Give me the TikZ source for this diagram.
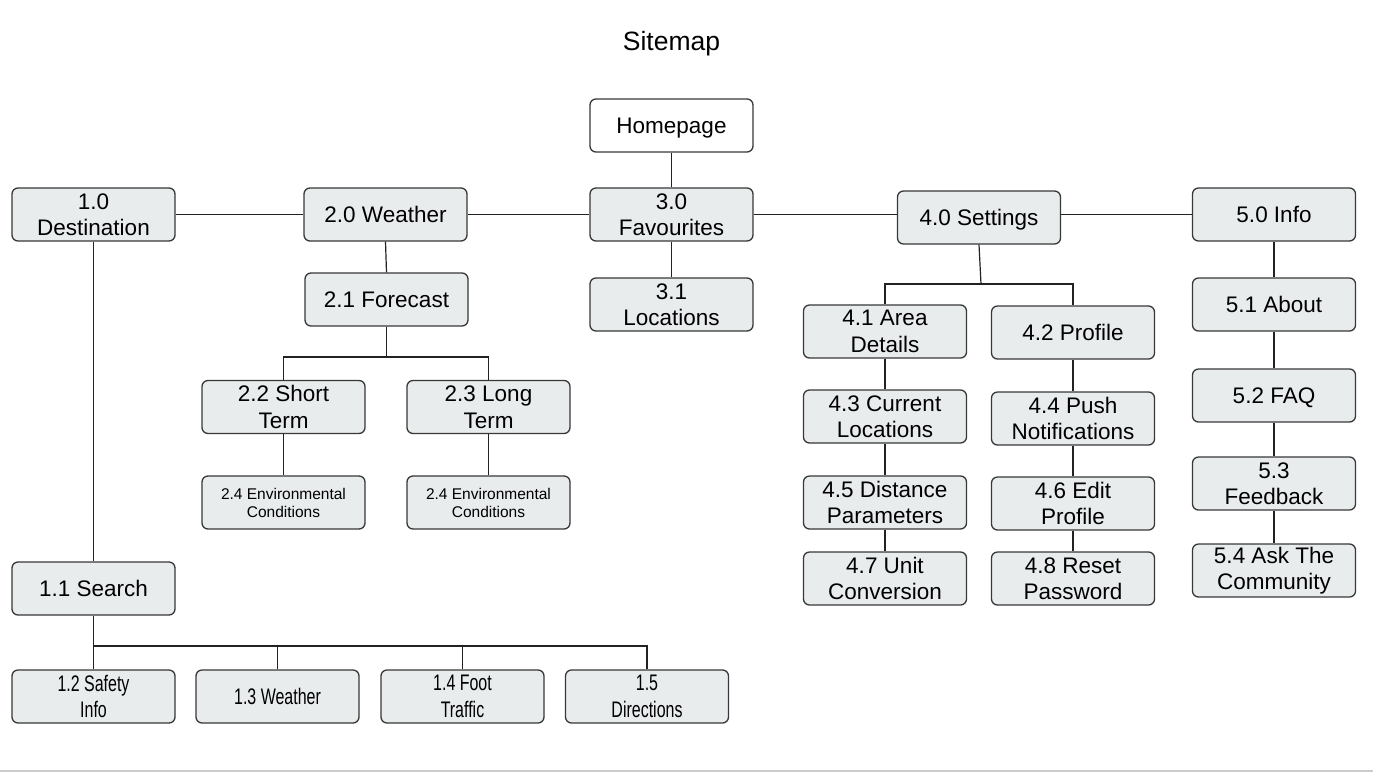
\documentclass[tikz,border=0pt]{standalone}
\usepackage{fontspec}
\setmainfont{Liberation Sans}
\usepackage{graphicx}
\definecolor{boxfill}{HTML}{E9ECED}
\definecolor{boxline}{HTML}{383838}
\definecolor{conn}{HTML}{222222}
\definecolor{rule}{HTML}{CCCCCC}
\newcommand{\cnd}[1]{\scalebox{0.71}[1]{#1}}
\begin{document}
\begin{tikzpicture}[x=1pt,y=-1pt,
  pagebox/.style={draw=boxline,fill=boxfill,line width=1.3pt,rounded corners=6pt,
    minimum width=163pt,minimum height=53pt,inner sep=0pt,align=center,
    font=\fontsize{22.5}{26.5}\selectfont},
  oneline/.style={text height=16pt,text depth=1pt},
  smallbox/.style={pagebox,font=\fontsize{15.5}{18}\selectfont},
  homebox/.style={pagebox,fill=white},
  link/.style={draw=conn,line width=1.2pt},
  ]
\useasboundingbox (0,0) rectangle (1373,772);
\fill[white] (0,0) rectangle (1373,772);
\node[font=\fontsize{26.5}{30}\selectfont] (title) at (671.5,43.3) {Sitemap};

\node[homebox,oneline] (home) at (671.5,125.5) {Homepage};
\node[pagebox] (dest) at (93.5,214.5) {1.0\\Destination};
\node[pagebox,oneline] (wea) at (385.5,214.5) {2.0 Weather};
\node[pagebox] (fav) at (671.5,214.5) {3.0\\Favourites};
\node[pagebox,oneline] (set) at (979,217.5) {4.0 Settings};
\node[pagebox,oneline] (info) at (1274,214.5) {5.0 Info};

\node[pagebox,oneline] (fc) at (386.5,299.5) {2.1 Forecast};
\node[pagebox] (loc) at (671.5,304.5) {3.1\\Locations};
\node[pagebox] (area) at (885,331.5) {4.1 Area\\Details};
\node[pagebox,oneline] (prof) at (1073,332.5) {4.2 Profile};
\node[pagebox,oneline] (about) at (1274,304.5) {5.1 About};

\node[pagebox] (short) at (283.5,407) {2.2 Short\\Term};
\node[pagebox] (long) at (488.5,407) {2.3 Long\\Term};
\node[pagebox] (cur) at (885,416.5) {4.3 Current\\Locations};
\node[pagebox] (push) at (1073,418.5) {4.4 Push\\Notifications};
\node[pagebox,oneline] (faq) at (1274,395.5) {5.2 FAQ};

\node[smallbox] (envA) at (283.5,502.5) {2.4 Environmental\\Conditions};
\node[smallbox] (envB) at (488.5,502.5) {2.4 Environmental\\Conditions};
\node[pagebox] (dist) at (885,502.5) {4.5 Distance\\Parameters};
\node[pagebox] (edit) at (1073,503.5) {4.6 Edit\\Profile};
\node[pagebox] (feed) at (1274,483.5) {5.3\\Feedback};

\node[pagebox] (unit) at (885,578.5) {4.7 Unit\\Conversion};
\node[pagebox] (reset) at (1073,578.5) {4.8 Reset\\Password};
\node[pagebox] (ask) at (1274,570.5) {5.4 Ask The\\Community};

\node[pagebox,oneline] (srch) at (93.5,588.5) {1.1 Search};
\node[pagebox] (safe) at (93.5,696.5) {\cnd{1.2 Safety}\\\cnd{Info}};
\node[pagebox,oneline] (bwea) at (277.5,696.5) {\cnd{1.3 Weather}};
\node[pagebox] (foot) at (462.5,696.5) {\cnd{1.4 Foot}\\\cnd{Traffic}};
\node[pagebox] (dir) at (647,696.5) {\cnd{1.5}\\\cnd{Directions}};

% junctions
\coordinate (jfc) at (386.5,357);
\coordinate (jset) at (981,284);
\coordinate (jsr) at (93.5,646);

% top row
\draw[link] (home.south) -- (fav.north);
\draw[link] (dest.east) -- (wea.west);
\draw[link] (wea.east) -- (fav.west);
\draw[link] (fav.east) -- (fav.east -| set.west);
\draw[link] (set.east |- info.west) -- (info.west);

% destination branch
\draw[link] (dest.south) -- (srch.north);
\draw[link] (srch.south) -- (safe.north);
\draw[link] (jsr) -| (dir.north);
\draw[link] (bwea.north) |- (jsr);
\draw[link] (foot.north) |- (jsr);

% weather branch
\draw[link] (wea.south) -- (fc.north);
\draw[link] (fc.south) -- (jfc);
\draw[link] (short.north) |- (jfc) -| (long.north);
\draw[link] (short.south) -- (envA.north);
\draw[link] (long.south) -- (envB.north);

% favourites branch
\draw[link] (fav.south) -- (loc.north);

% settings branch
\draw[link] (set.south) -- (jset);
\draw[link] (area.north) |- (jset) -| (prof.north);
\draw[link] (area.south) -- (cur.north);
\draw[link] (cur.south) -- (dist.north);
\draw[link] (dist.south) -- (unit.north);
\draw[link] (prof.south) -- (push.north);
\draw[link] (push.south) -- (edit.north);
\draw[link] (edit.south) -- (reset.north);

% info branch
\draw[link] (info.south) -- (about.north);
\draw[link] (about.south) -- (faq.north);
\draw[link] (faq.south) -- (feed.north);
\draw[link] (feed.south) -- (ask.north);

% bottom rule
\coordinate (rl) at (0,770.5);
\coordinate (rr) at (1373,770.5);
\draw[draw=rule,line width=2pt] (rl) -- (rr);
\end{tikzpicture}
\end{document}
